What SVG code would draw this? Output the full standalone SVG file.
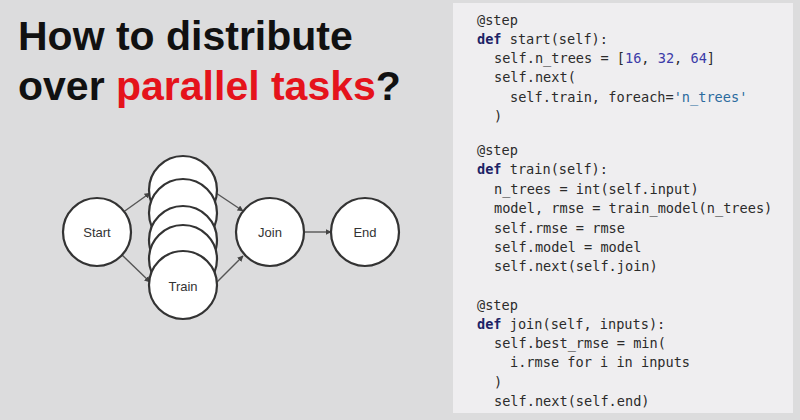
<svg xmlns="http://www.w3.org/2000/svg" width="800" height="420" viewBox="0 0 800 420">
<defs>
<marker id="ah" viewBox="0 0 10 10" refX="9" refY="5" markerWidth="6" markerHeight="6" orient="auto" markerUnits="userSpaceOnUse"><path d="M0,0 L10,5 L0,10 z" fill="#444"/></marker>
<style>
.title{font-family:"Liberation Sans",Arial,sans-serif;font-weight:bold;font-size:41px;fill:#111}
.red{fill:#e5131b}
.node circle{fill:#fff;stroke:#333;stroke-width:2.2}
.lbl{font-family:"Liberation Sans",Arial,sans-serif;font-size:13px;fill:#333;text-anchor:middle}
.edge{stroke:#555;stroke-width:1.4;fill:none;marker-end:url(#ah)}
.code{font-family:"DejaVu Sans Mono",monospace;font-size:13.6px;fill:#2b2b2b}
.kw{fill:#1c2366;font-weight:bold}
.num{fill:#3b3ba8}
.str{fill:#2b6b9e}
</style>
</defs>
<rect width="800" height="420" fill="#dcdcdd"/>
<rect x="453" y="3" width="340" height="410" fill="#efeef0"/>
<text class="title" x="18" y="50">How to distribute</text>
<text class="title" x="18" y="100">over <tspan class="red">parallel tasks</tspan>?</text>
<g id="connectors">
<line class="edge" x1="122" y1="213" x2="150" y2="193"/>
<line class="edge" x1="122" y1="255" x2="150" y2="282"/>
<line class="edge" x1="216" y1="193" x2="243" y2="211"/>
<line class="edge" x1="216" y1="283" x2="243" y2="256"/>
<line class="edge" x1="304" y1="232" x2="331" y2="232"/>
</g>
<g id="start" class="node"><circle cx="97" cy="232" r="34"/><text class="lbl" x="97" y="237">Start</text></g>
<g id="train" class="node">
<circle cx="183" cy="190" r="34"/>
<circle cx="183" cy="213" r="34"/>
<circle cx="183" cy="240" r="34"/>
<circle cx="183" cy="259" r="34"/>
<circle cx="183" cy="285" r="34"/>
<text class="lbl" x="183" y="291">Train</text>
</g>
<g id="join" class="node"><circle cx="270" cy="232" r="34"/><text class="lbl" x="270" y="237">Join</text></g>
<g id="end" class="node"><circle cx="365" cy="232" r="34"/><text class="lbl" x="365" y="237">End</text></g>
<g id="code" class="code">
<text x="477" y="25">@step</text>
<text x="477" y="44"><tspan class="kw">def</tspan> start(self):</text>
<text x="494" y="63">self.n_trees = [<tspan class="num">16</tspan>, <tspan class="num">32</tspan>, <tspan class="num">64</tspan>]</text>
<text x="494" y="82">self.next(</text>
<text x="510" y="102">self.train, foreach=<tspan class="str">'n_trees'</tspan></text>
<text x="494" y="121">)</text>
<text x="477" y="155">@step</text>
<text x="477" y="174"><tspan class="kw">def</tspan> train(self):</text>
<text x="494" y="194">n_trees = int(self.input)</text>
<text x="494" y="213">model, rmse = train_model(n_trees)</text>
<text x="494" y="233">self.rmse = rmse</text>
<text x="494" y="252">self.model = model</text>
<text x="494" y="271">self.next(self.join)</text>
<text x="477" y="310">@step</text>
<text x="477" y="329"><tspan class="kw">def</tspan> join(self, inputs):</text>
<text x="494" y="348">self.best_rmse = min(</text>
<text x="510" y="367">i.rmse for i in inputs</text>
<text x="494" y="387">)</text>
<text x="494" y="406">self.next(self.end)</text>
</g>
</svg>
